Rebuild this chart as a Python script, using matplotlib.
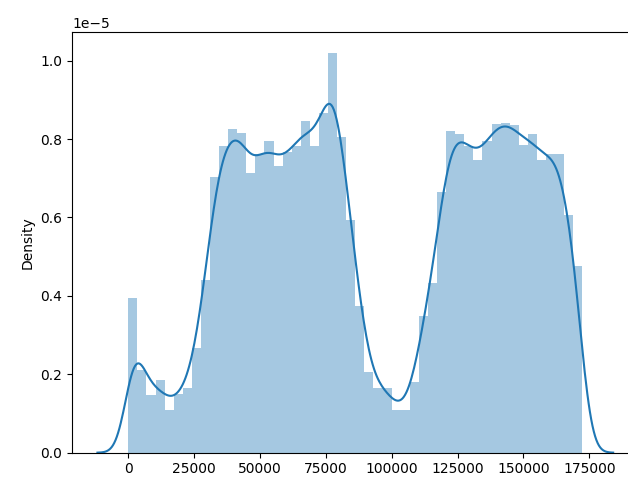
import math
import numpy as np
import matplotlib
matplotlib.use("Agg")
import matplotlib.pyplot as plt

# Histogram (density, in units of 1e-5), 50 equal bins
data_min = 0.0
data_max = 172330.0
bar_heights = [
    0.395, 0.21, 0.147, 0.185, 0.109, 0.15, 0.165, 0.267, 0.44, 0.703,
    0.783, 0.825, 0.816, 0.713, 0.762, 0.796, 0.73, 0.766, 0.783, 0.845,
    0.783, 0.866, 1.02, 0.806, 0.593, 0.374, 0.207, 0.165, 0.165, 0.109,
    0.109, 0.18, 0.348, 0.434, 0.665, 0.821, 0.813, 0.783, 0.746, 0.796,
    0.838, 0.842, 0.836, 0.786, 0.813, 0.746, 0.762, 0.762, 0.606, 0.476,
]
kde_bandwidth = 3550.0
kde_cut = 3.3

heights = np.array(bar_heights) * 1e-5
edges = np.linspace(data_min, data_max, len(bar_heights) + 1)
width = edges[1] - edges[0]

# KDE of data spread within the bins
grid = np.linspace(data_min - kde_cut * kde_bandwidth,
                   data_max + kde_cut * kde_bandwidth, 400)
erf = np.vectorize(math.erf)
def Phi(z):
    return 0.5 * (1 + erf(z / math.sqrt(2)))
mass = heights * width
total = mass.sum()
kde = np.zeros_like(grid)
for a, b, m in zip(edges[:-1], edges[1:], mass):
    kde += m * (Phi((grid - a) / kde_bandwidth) - Phi((grid - b) / kde_bandwidth)) / width

fig = plt.figure(figsize=(6.28, 4.8), dpi=100)
ax = fig.add_axes([72 / 628, 1 - 452.7 / 480, 566.6 / 628, 420.7 / 480])
ax.bar(edges[:-1], heights, width=width, align="edge", color="#1f77b4",
       alpha=0.4, linewidth=0)
ax.plot(grid, kde, color="#1f77b4", linewidth=1.5)
ax.set_xlim(-21370, 193700)
ax.set_ylim(0, 1.073e-5)
ax.set_xticks([0, 25000, 50000, 75000, 100000, 125000, 150000, 175000])
ax.set_ylabel("Density")
fig.savefig("out.png", dpi=100)
